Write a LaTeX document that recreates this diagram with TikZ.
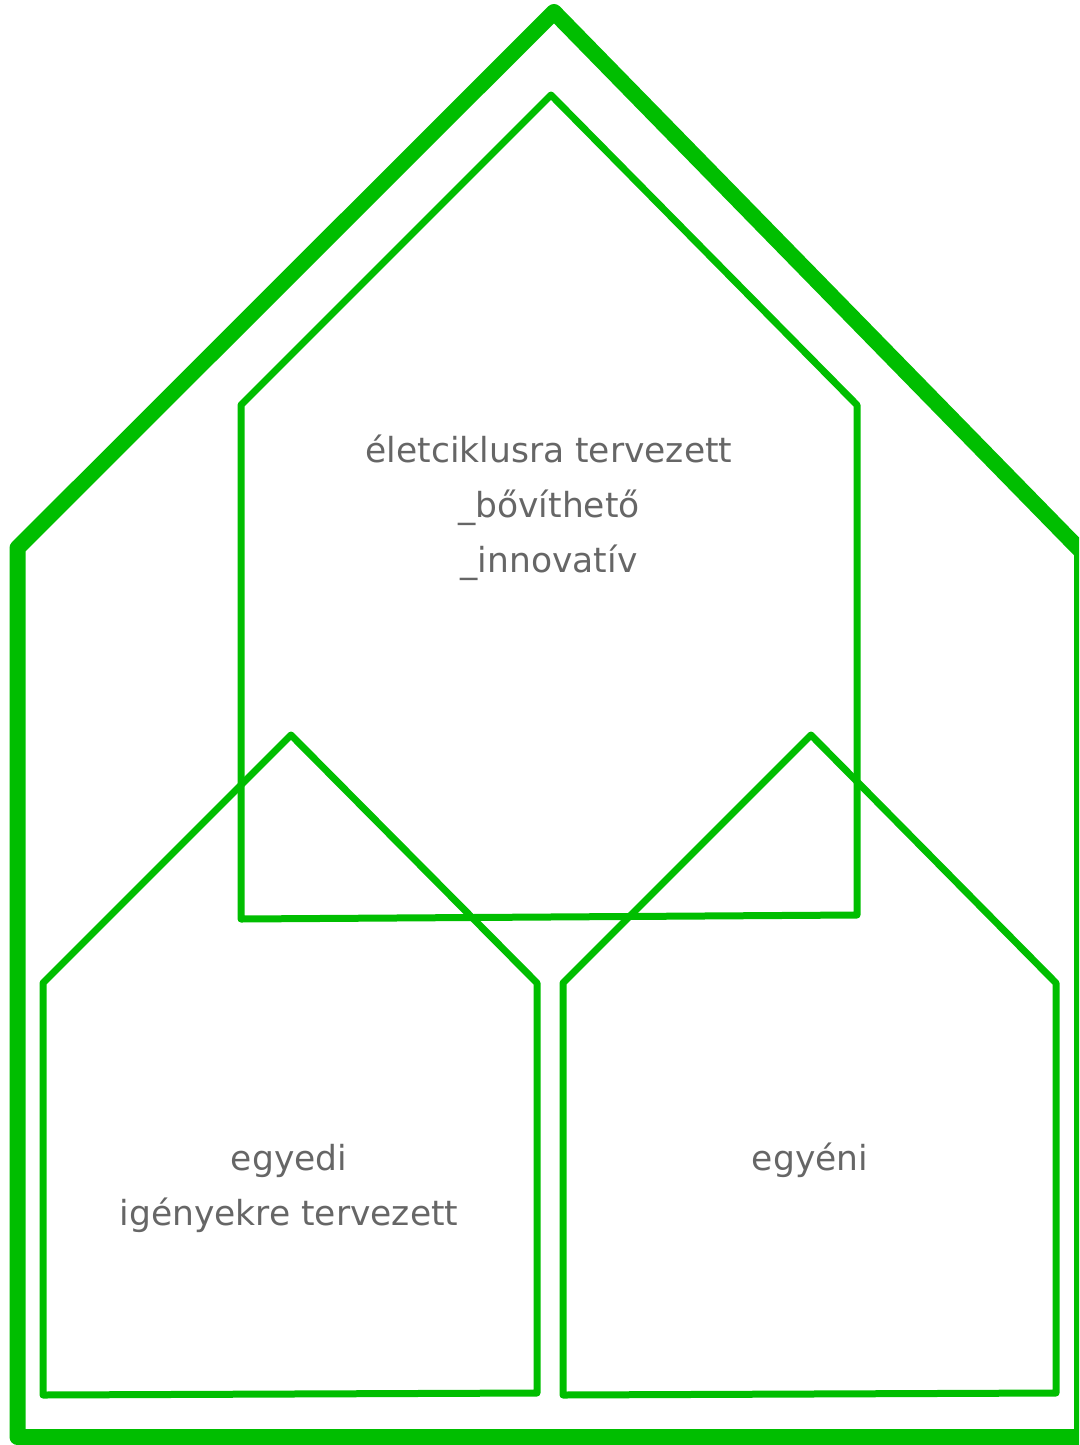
\documentclass[tikz,border=0pt]{standalone}
\usepackage{fontspec}
\setmainfont{DejaVu Sans}
\definecolor{hgreen}{RGB}{0,190,0}
\definecolor{tgray}{RGB}{102,102,102}
\begin{document}
\begin{tikzpicture}[x=1pt,y=-1pt,
  house/.style={draw=hgreen,line join=round,line cap=round},
  lbl/.style={text=tgray,font=\fontsize{34.5}{56}\selectfont,align=center,inner sep=0pt,anchor=base}]
\useasboundingbox (0,0) rectangle (1079,1445);
\begin{scope}
\clip (0,0) rectangle (1079,1445);
\draw[house,line width=16] (554,12) -- (17.5,548) -- (17.5,1437) -- (1082,1437) -- (1082,552) -- cycle;
\end{scope}
\draw[house,line width=7] (551,95) -- (241,405) -- (241,919) -- (857,915) -- (857,405) -- cycle;
\draw[house,line width=7] (291,735) -- (43,983) -- (43,1395) -- (537,1393) -- (537,983) -- cycle;
\draw[house,line width=7] (811,735) -- (563,983) -- (563,1395) -- (1056,1393) -- (1056,983) -- cycle;
\node[lbl] (t1) at (549,462) {életciklusra tervezett};
\node[lbl] (t2) at (549,517) {\_bővíthető};
\node[lbl] (t3) at (549,572) {\_innovatív};
\node[lbl] (l1) at (289,1170) {egyedi};
\node[lbl] (l2) at (289,1225) {igényekre tervezett};
\node[lbl] (r1) at (810,1170) {egyéni};
\end{tikzpicture}
\end{document}
